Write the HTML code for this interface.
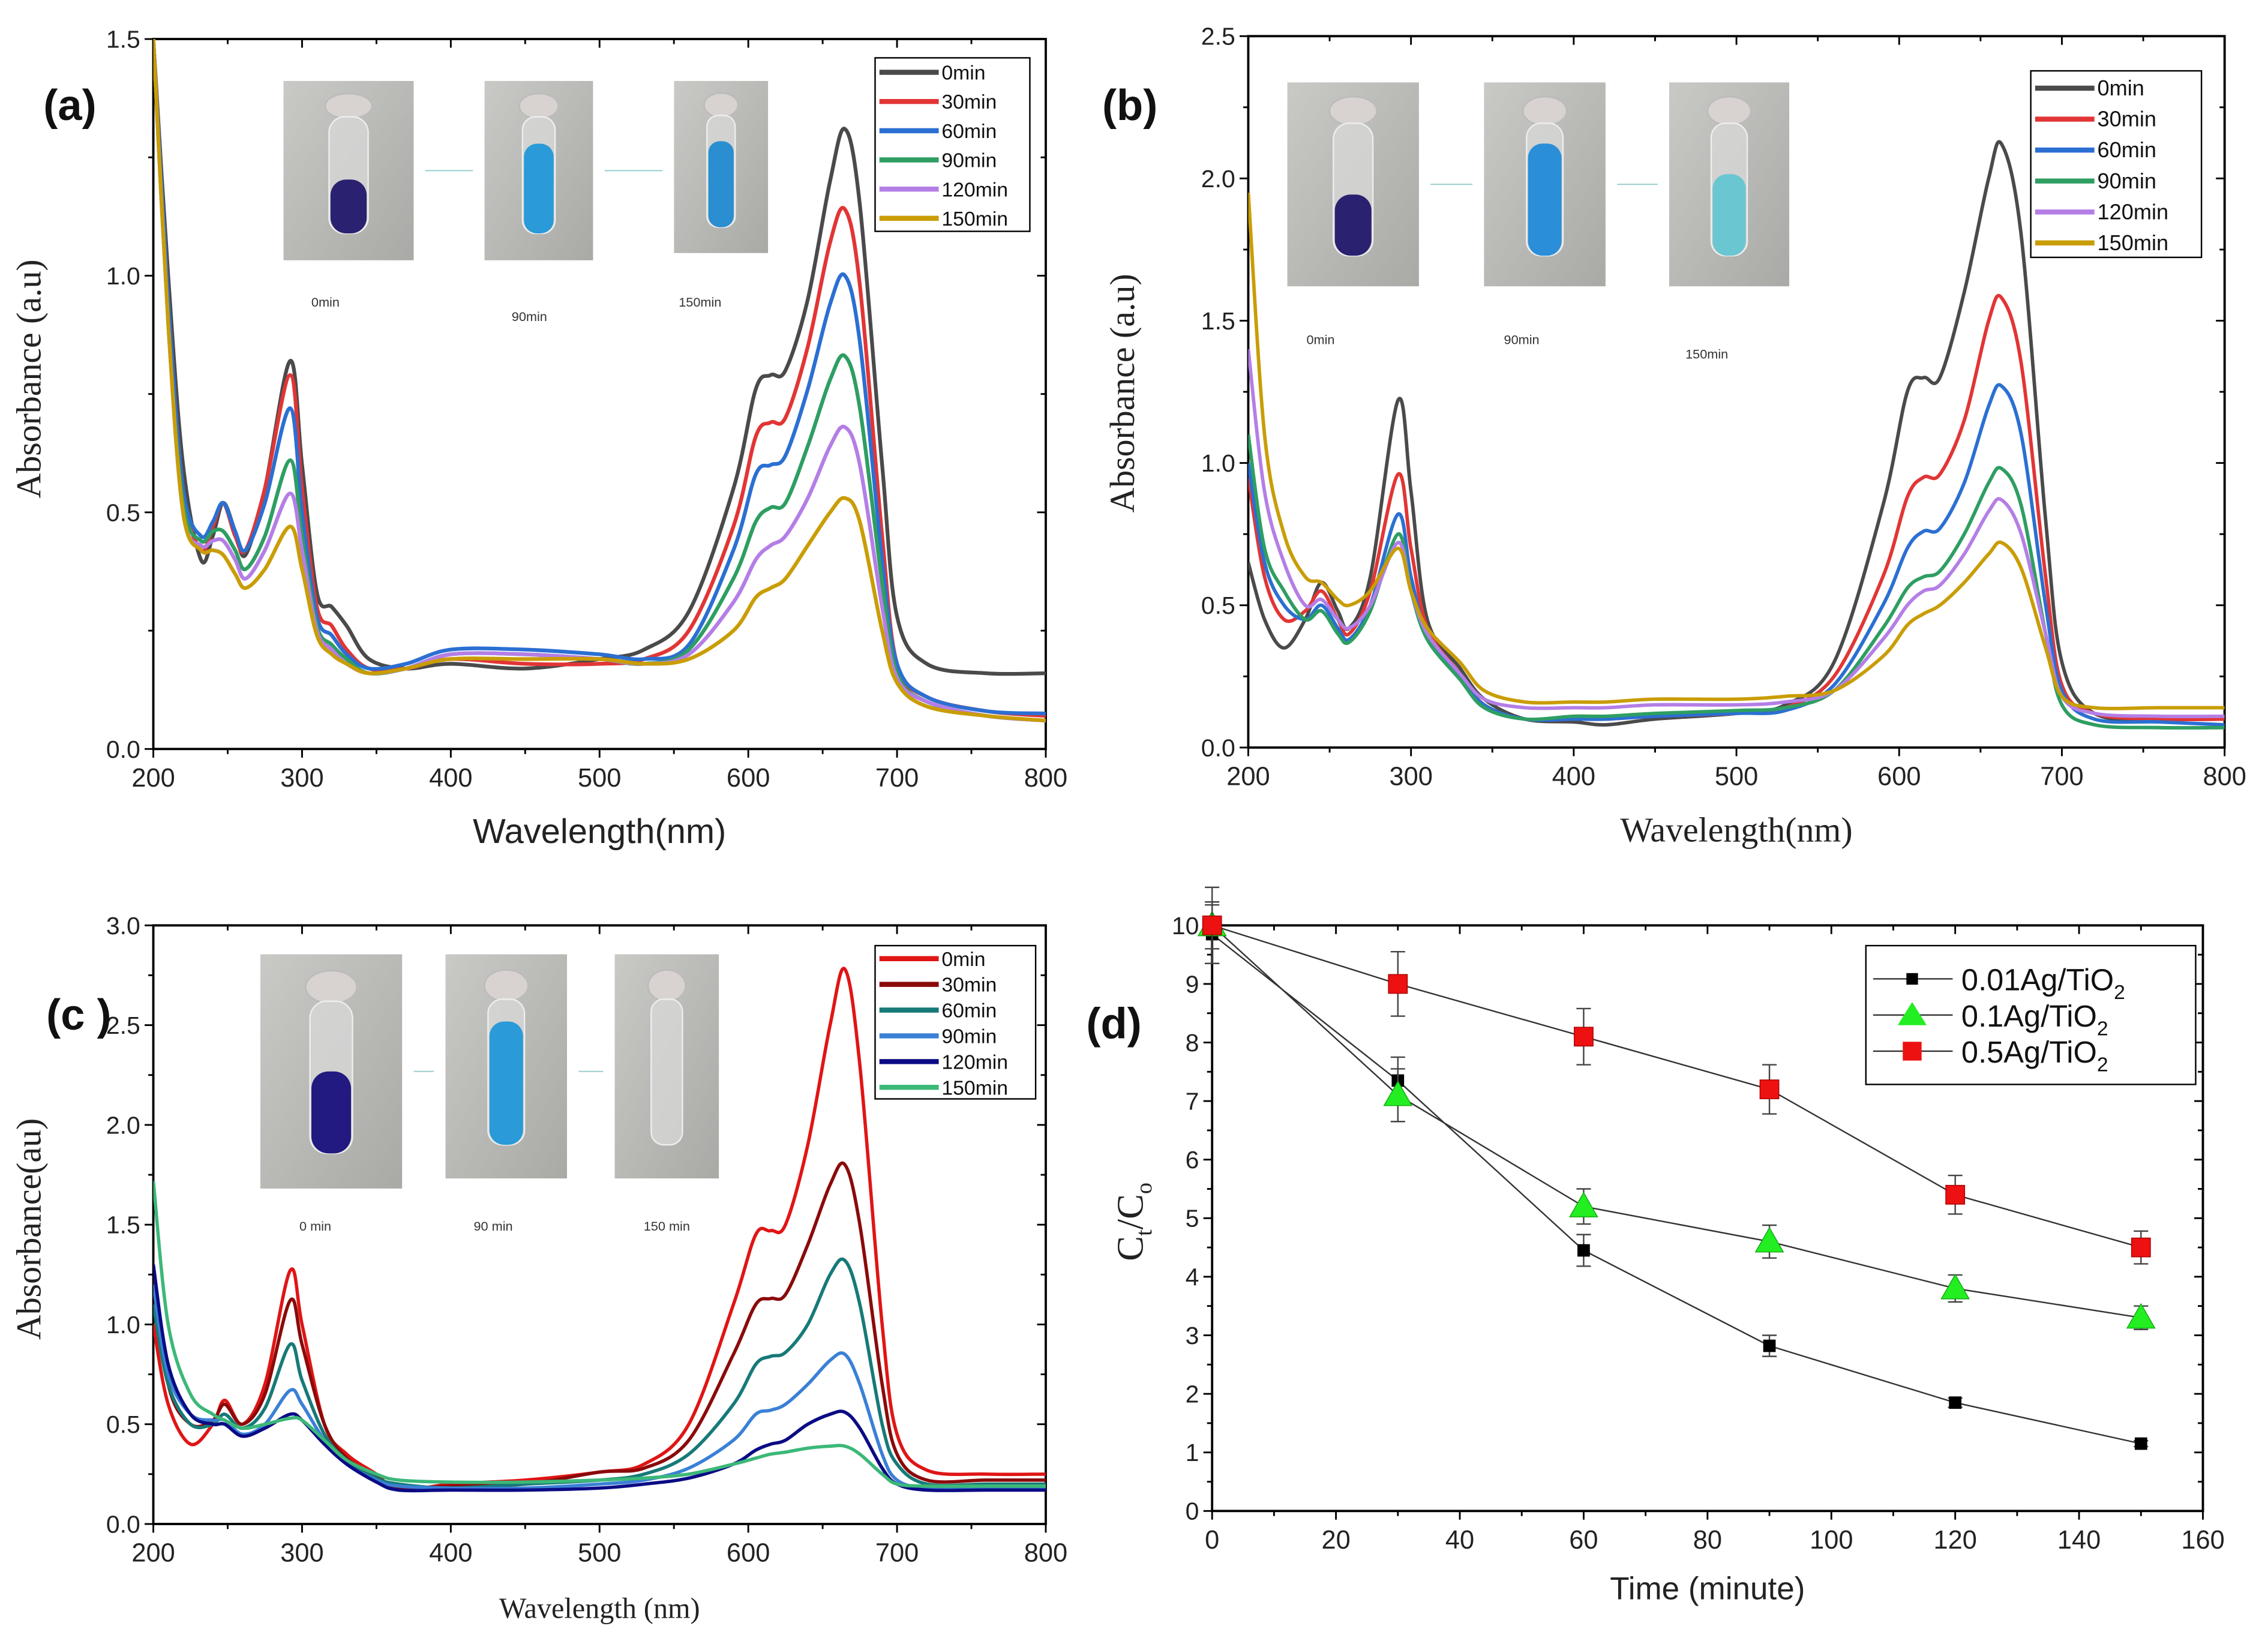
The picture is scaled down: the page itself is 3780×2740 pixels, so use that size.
<!DOCTYPE html>
<html><head><meta charset="utf-8"><style>
html,body{margin:0;padding:0;background:#fff}
svg{display:block}
</style></head><body>
<svg id="fig" width="3780" height="2740" viewBox="0 0 1568 1137" preserveAspectRatio="none" xmlns="http://www.w3.org/2000/svg" font-family="Liberation Sans, sans-serif">
<defs>
<linearGradient id="photoBg" x1="0" y1="0" x2="1" y2="1"><stop offset="0" stop-color="#c9c9c6"/><stop offset="1" stop-color="#a9a9a6"/></linearGradient>
</defs>
<g id="root"></g>
</svg>
<script>
// ===== Panel (a) data =====
const wlA = [200,210,220,232,240,247,255,262,275,292,300,310,320,330,345,370,400,450,500,530,560,590,605,615,625,640,655,665,675,690,700,720,760,800];
const a0 = [1.5,1.0,0.6,0.40,0.45,0.52,0.46,0.41,0.55,0.82,0.6,0.33,0.30,0.26,0.19,0.17,0.18,0.17,0.19,0.21,0.29,0.55,0.76,0.79,0.80,0.95,1.2,1.31,1.15,0.6,0.28,0.18,0.16,0.16];
const a30 = [1.5,0.95,0.55,0.42,0.47,0.52,0.45,0.42,0.55,0.79,0.55,0.30,0.26,0.21,0.17,0.17,0.19,0.18,0.18,0.19,0.25,0.47,0.66,0.69,0.70,0.85,1.07,1.14,0.98,0.45,0.18,0.11,0.08,0.07];
const a60 = [1.5,0.95,0.55,0.45,0.48,0.52,0.46,0.42,0.52,0.72,0.5,0.28,0.24,0.20,0.17,0.18,0.21,0.21,0.20,0.19,0.22,0.42,0.58,0.60,0.62,0.76,0.94,1.0,0.86,0.40,0.18,0.11,0.08,0.075];
const a90 = [1.5,0.9,0.52,0.44,0.46,0.46,0.42,0.38,0.45,0.61,0.45,0.26,0.22,0.19,0.16,0.17,0.2,0.2,0.19,0.18,0.21,0.36,0.48,0.51,0.52,0.64,0.78,0.83,0.72,0.35,0.16,0.10,0.07,0.06];
const a120 = [1.5,0.9,0.5,0.43,0.44,0.44,0.40,0.36,0.42,0.54,0.42,0.25,0.21,0.18,0.16,0.17,0.2,0.2,0.19,0.18,0.2,0.31,0.40,0.43,0.45,0.53,0.64,0.68,0.60,0.3,0.15,0.10,0.07,0.06];
const a150 = [1.5,0.9,0.5,0.42,0.42,0.41,0.37,0.34,0.38,0.47,0.38,0.24,0.20,0.18,0.16,0.17,0.19,0.19,0.19,0.18,0.19,0.25,0.32,0.34,0.36,0.43,0.50,0.53,0.48,0.25,0.14,0.09,0.07,0.06];
// ===== Panel (b) data =====
const wlB = [200,210,222,235,245,255,262,275,292,300,310,330,345,370,400,420,450,500,530,560,590,605,615,625,640,655,663,675,690,700,720,760,800];
const b0 = [0.65,0.45,0.35,0.45,0.58,0.48,0.42,0.6,1.22,0.9,0.45,0.28,0.17,0.10,0.09,0.08,0.10,0.12,0.15,0.3,0.85,1.25,1.30,1.30,1.6,2.0,2.12,1.8,0.8,0.3,0.12,0.10,0.10];
const b30 = [0.95,0.6,0.45,0.48,0.55,0.45,0.40,0.55,0.96,0.7,0.42,0.26,0.15,0.10,0.10,0.10,0.11,0.12,0.14,0.25,0.6,0.88,0.95,0.96,1.15,1.5,1.58,1.35,0.6,0.22,0.12,0.10,0.10];
const b60 = [1.0,0.65,0.5,0.45,0.5,0.42,0.38,0.5,0.82,0.6,0.40,0.25,0.15,0.10,0.10,0.10,0.11,0.12,0.13,0.22,0.5,0.7,0.76,0.77,0.93,1.2,1.27,1.1,0.5,0.2,0.10,0.09,0.08];
const b90 = [1.1,0.7,0.55,0.45,0.48,0.40,0.37,0.48,0.75,0.55,0.38,0.24,0.14,0.10,0.11,0.11,0.12,0.13,0.14,0.2,0.42,0.56,0.6,0.62,0.75,0.93,0.98,0.85,0.4,0.15,0.08,0.07,0.07];
const b120 = [1.4,0.9,0.65,0.5,0.52,0.45,0.42,0.50,0.72,0.55,0.40,0.26,0.17,0.14,0.14,0.14,0.15,0.15,0.16,0.2,0.38,0.5,0.55,0.57,0.68,0.83,0.87,0.75,0.4,0.18,0.12,0.11,0.11];
const b150 = [1.95,1.1,0.75,0.6,0.58,0.52,0.50,0.55,0.70,0.55,0.42,0.30,0.20,0.16,0.16,0.16,0.17,0.17,0.18,0.2,0.32,0.43,0.47,0.5,0.58,0.68,0.72,0.63,0.35,0.18,0.14,0.14,0.14];
// ===== Panel (c) data =====
const wlC = [200,210,225,240,248,260,275,292,300,315,330,350,365,400,450,500,530,560,590,605,615,625,640,655,665,675,690,700,720,760,800];
const c0 = [1.0,0.6,0.4,0.5,0.62,0.5,0.7,1.27,1.0,0.5,0.35,0.25,0.17,0.2,0.22,0.26,0.3,0.5,1.1,1.45,1.47,1.5,1.9,2.5,2.78,2.3,1.0,0.45,0.27,0.25,0.25];
const c30 = [1.3,0.7,0.5,0.52,0.6,0.5,0.65,1.12,0.9,0.5,0.33,0.24,0.18,0.19,0.2,0.26,0.28,0.42,0.85,1.1,1.13,1.15,1.4,1.7,1.8,1.5,0.7,0.35,0.22,0.22,0.22];
const c60 = [1.1,0.7,0.5,0.5,0.55,0.48,0.58,0.9,0.72,0.45,0.32,0.23,0.2,0.18,0.2,0.22,0.25,0.35,0.6,0.8,0.84,0.86,1.0,1.25,1.32,1.1,0.5,0.3,0.2,0.2,0.2];
const c90 = [1.2,0.75,0.55,0.52,0.52,0.45,0.5,0.67,0.6,0.42,0.30,0.22,0.19,0.18,0.18,0.2,0.22,0.28,0.42,0.55,0.57,0.6,0.7,0.82,0.85,0.7,0.35,0.22,0.18,0.18,0.18];
const c120 = [1.3,0.8,0.55,0.5,0.5,0.44,0.48,0.55,0.52,0.40,0.30,0.21,0.17,0.17,0.17,0.18,0.2,0.23,0.3,0.37,0.4,0.42,0.5,0.55,0.56,0.48,0.28,0.2,0.17,0.17,0.17];
const c150 = [1.72,1.0,0.65,0.55,0.52,0.48,0.5,0.53,0.52,0.42,0.32,0.25,0.22,0.21,0.21,0.22,0.23,0.25,0.3,0.33,0.35,0.36,0.38,0.39,0.39,0.35,0.25,0.2,0.19,0.19,0.19];
const timeLabels = ["0min","30min","60min","90min","120min","150min"];
// ===== Panel (d) data =====
const timeD = [0,30,60,90,120,150];
const d001 = [9.85,7.35,4.45,2.82,1.85,1.15];
const d001err = [0.5,0.4,0.27,0.18,0.08,0.05];
const d01 = [10,7.1,5.2,4.6,3.8,3.3];
const d01err = [0.4,0.45,0.3,0.28,0.23,0.2];
const d05 = [10,9,8.1,7.2,5.4,4.5];
const d05err = [0.65,0.55,0.48,0.42,0.33,0.28];
const xTicksW = [200,300,400,500,600,700,800];
const xTicksT = [0,20,40,60,80,100,120,140,160];

const NS="http://www.w3.org/2000/svg";
const root=document.getElementById('root');
function el(tag,attrs,parent,text){const e=document.createElementNS(NS,tag);for(const k in attrs)e.setAttribute(k,attrs[k]);if(text!==undefined)e.textContent=text;(parent||root).appendChild(e);return e;}
function smooth(pts){let d='M'+pts[0][0].toFixed(2)+','+pts[0][1].toFixed(2);for(let i=0;i<pts.length-1;i++){const p0=pts[Math.max(0,i-1)],p1=pts[i],p2=pts[i+1],p3=pts[Math.min(pts.length-1,i+2)];const c1=[p1[0]+(p2[0]-p0[0])/6,p1[1]+(p2[1]-p0[1])/6],c2=[p2[0]-(p3[0]-p1[0])/6,p2[1]-(p3[1]-p1[1])/6];d+='C'+c1[0].toFixed(2)+','+c1[1].toFixed(2)+' '+c2[0].toFixed(2)+','+c2[1].toFixed(2)+' '+p2[0].toFixed(2)+','+p2[1].toFixed(2);}return d;}

function axes(P,g,xt,yt,xminor,yminor,fmt){
  const sx=v=>P.x0+(v-P.xmin)/(P.xmax-P.xmin)*(P.x1-P.x0);
  const sy=v=>P.y1-(v-P.ymin)/(P.ymax-P.ymin)*(P.y1-P.y0);
  const fr=el('rect',{x:P.x0,y:P.y0,width:P.x1-P.x0,height:P.y1-P.y0,fill:'none',stroke:'#000','stroke-width':1.6},g);
  
  for(let v=P.xmin;v<=P.xmax+1e-9;v+=xminor){const x=sx(v);const major=xt.some(t=>Math.abs(t-v)<1e-9);const L=major?6:3.5;
    el('line',{x1:x,y1:P.y1,x2:x,y2:P.y1+L,stroke:'#000','stroke-width':1.2},g);el('line',{x1:x,y1:P.y0,x2:x,y2:P.y0+L,stroke:'#000','stroke-width':1.2},g);}
  for(let v=P.ymin;v<=P.ymax+1e-9;v+=yminor){const y=sy(v);const major=yt.some(t=>Math.abs(t-v)<1e-9);const L=major?6:3.5;
    el('line',{x1:P.x0,y1:y,x2:P.x0-L,y2:y,stroke:'#000','stroke-width':1.2},g);el('line',{x1:P.x1,y1:y,x2:P.x1-L,y2:y,stroke:'#000','stroke-width':1.2},g);}
  xt.forEach(v=>{const t=el('text',{x:sx(v),y:P.y1+26,'font-size':18,'text-anchor':'middle',fill:'#222'},g,String(v));});
  yt.forEach(v=>{const t=el('text',{x:P.x0-9,y:sy(v)+6,'font-size':17,'text-anchor':'end',fill:'#222'},g,fmt(v));});
  return {sx,sy};
}

function photo(g,x,y,w,h,liquid,name,lh){
  const gg=el('g',{},g);
  el('rect',{x:x,y:y,width:w,height:h,fill:'url(#photoBg)'},gg);
  const cx=x+w/2,vw=w*0.3;
  el('ellipse',{cx:cx,cy:y+h*0.14,rx:vw*0.6,ry:h*0.07,fill:'#d8d2d0',stroke:'#bbb'},gg);
  el('rect',{x:cx-vw/2,y:y+h*0.2,width:vw,height:h*0.65,rx:vw*0.4,fill:'#dcdcdc','fill-opacity':0.7,stroke:'#eee'},gg);
  if(liquid) el('rect',{x:cx-vw/2+1,y:y+h*(0.85-lh),width:vw-2,height:h*lh,rx:vw*0.4,fill:liquid},gg);
}

function spectrum(P,key,wl,series,colors,lw,legend,yt,yminor,title,titleFont,ylab,photos,labels,letter){
  const g=el('g',{});
  // photos
  photos.forEach((p,i)=>photo(g,p[0],p[1],p[2],p[3],p[4],'vial-photo-'+i,p[5]));
  labels.forEach(l=>{const t=el('text',{x:l[0],y:l[1],'font-size':9,'text-anchor':'middle',fill:'#333'},g,l[2]);});
  el('line',{x1:photos[0][0]+photos[0][2]+8,y1:photos[0][1]+photos[0][3]*0.5,x2:photos[1][0]-8,y2:photos[0][1]+photos[0][3]*0.5,stroke:'#9cc',"stroke-width":0.8},g);
  el('line',{x1:photos[1][0]+photos[1][2]+8,y1:photos[0][1]+photos[0][3]*0.5,x2:photos[2][0]-8,y2:photos[0][1]+photos[0][3]*0.5,stroke:'#9cc',"stroke-width":0.8},g);
  const {sx,sy}=axes(P,g,xTicksW,yt,50,yminor,v=>v.toFixed(1));
  const cp=el('clipPath',{id:'clip-'+key},g);el('rect',{x:P.x0,y:P.y0,width:P.x1-P.x0,height:P.y1-P.y0},cp);
  series.forEach((s,i)=>{const pts=wl.map((w,j)=>[sx(w),sy(s[j])]);
    const p=el('path',{d:smooth(pts),fill:'none',stroke:colors[i],'stroke-width':lw,'clip-path':'url(#clip-'+key+')','stroke-linejoin':'round'},g);
    });
  // legend
  const L=legend;const lg=el('g',{},g);
  el('rect',{x:L.x,y:L.y,width:L.w,height:L.h,fill:'#fff',stroke:'#000','stroke-width':1},lg);
  timeLabels.forEach((t,i)=>{const y=L.y+L.first+i*L.step;
    const ln=el('line',{x1:L.x+3,y1:y,x2:L.x+L.lineLen,y2:y,stroke:colors[i],'stroke-width':3.5},lg);
    const tx=el('text',{x:L.x+L.lineLen+2,y:y+5,'font-size':L.fs,fill:'#111'},lg,t);});
  const xt=el('text',{x:(P.x0+P.x1)/2,y:P.y1+65,'font-size':titleFont.size,'text-anchor':'middle','font-family':titleFont.family,fill:'#222'},g,title);
  
  const yl=el('text',{x:0,y:0,'font-size':24,'text-anchor':'middle','font-family':'Liberation Serif, serif',fill:'#222',transform:'translate('+ylab[0]+','+ylab[1]+') rotate(-90)'},g,ylab[2]);
  
  const lt=el('text',{x:letter[0],y:letter[1],'font-size':30,'font-weight':'bold',fill:'#111'},g,letter[2]);
  
}

const colsAB=['#4a4a4a','#e23535','#2b6fd2','#2e9e62','#b47ee6','#c99d06'];
const colsC=['#e01515','#8b0a0a','#167a78','#3a80d6','#0b0b85','#3cb878'];

spectrum({x0:106,x1:723,y0:27,y1:518,xmin:200,xmax:800,ymin:0,ymax:1.5},'panel-a',wlA,[a0,a30,a60,a90,a120,a150],colsAB,2.6,
 {x:605,y:40,w:107,h:120,first:10,step:20.2,lineLen:44,fs:14},[0,0.5,1.0,1.5],0.25,'Wavelength(nm)',{size:24,family:'Liberation Sans, sans-serif'},
 [28,262,'Absorbance (a.u)'],
 [[196,56,90,124,'#2a2170',0.3],[335,56,75,124,'#2a9ad8',0.5],[466,56,65,119,'#2a8ed0',0.5]],
 [[225,212,'0min'],[366,222,'90min'],[484,212,'150min']],[30,83,'(a)']);

spectrum({x0:863,x1:1538,y0:25,y1:517,xmin:200,xmax:800,ymin:0,ymax:2.5},'panel-b',wlB,[b0,b30,b60,b90,b120,b150],colsAB,2.4,
 {x:1404,y:49,w:118,h:129,first:12,step:21.4,lineLen:44,fs:15},[0,0.5,1.0,1.5,2.0,2.5],0.25,'Wavelength(nm)',{size:24,family:'Liberation Serif, serif'},
 [784,272,'Absorbance (a.u)'],
 [[890,57,91,141,'#2a2170',0.3],[1026,57,84,141,'#2a8ed8',0.55],[1154,57,83,141,'#6ac6d0',0.4]],
 [[913,238,'0min'],[1052,238,'90min'],[1180,248,'150min']],[762,83,'(b)']);

spectrum({x0:106,x1:723,y0:640,y1:1054,xmin:200,xmax:800,ymin:0,ymax:3.0},'panel-c',wlC,[c0,c30,c60,c90,c120,c150],colsC,2.3,
 {x:605,y:654,w:111,h:106,first:9,step:17.8,lineLen:44,fs:14},[0,0.5,1.0,1.5,2.0,2.5,3.0],0.25,'Wavelength (nm)',{size:20,family:'Liberation Serif, serif'},
 [28,850,'Absorbance(au)'],
 [[180,660,98,162,'#221a80',0.35],[308,660,84,155,'#2a9ad8',0.55],[425,660,72,155,null,0]],
 [[218,851,'0 min'],[341,851,'90 min'],[461,851,'150 min']],[32,712,'(c )']);

// ===== Panel (d) =====
(function(){
  const P={x0:838,x1:1523,y0:640,y1:1045,xmin:0,xmax:160,ymin:0,ymax:10};
  const g=el('g',{});
  const {sx,sy}=axes(P,g,xTicksT,[0,1,2,3,4,5,6,7,8,9,10],10,0.5,v=>String(v));
  function series(vals,errs,marker,color,size,name){
    const sg=el('g',{},g);
    const pts=timeD.map((t,i)=>[sx(t),sy(vals[i])]);
    el('polyline',{points:pts.map(p=>p.join(',')).join(' '),fill:'none',stroke:'#333','stroke-width':1},sg);
    timeD.forEach((t,i)=>{const x=sx(t),yt=sy(vals[i]+errs[i]),yb=sy(vals[i]-errs[i]);
      el('line',{x1:x,y1:yt,x2:x,y2:yb,stroke:'#444','stroke-width':1},sg);
      el('line',{x1:x-5,y1:yt,x2:x+5,y2:yt,stroke:'#444','stroke-width':1},sg);
      el('line',{x1:x-5,y1:yb,x2:x+5,y2:yb,stroke:'#444','stroke-width':1},sg);
      const y=sy(vals[i]);let m;
      if(marker==='sq') m=el('rect',{x:x-size/2,y:y-size/2,width:size,height:size,fill:color,stroke:color==='#000'?'#000':'#a00','stroke-width':0.6},sg);
      else m=el('polygon',{points:(x)+','+(y-size*0.6)+' '+(x-size*0.6)+','+(y+size*0.45)+' '+(x+size*0.6)+','+(y+size*0.45),fill:color,stroke:'#1a1','stroke-width':0.6},sg);
      });
  }
  series(d001,d001err,'sq','#000',8,'series-0.01Ag');
  series(d01,d01err,'tri','#22ee22',16,'series-0.1Ag');
  series(d05,d05err,'sq','#ee1111',13,'series-0.5Ag');
  const lg=el('g',{},g);
  el('rect',{x:1290,y:654,width:228,height:96,fill:'#fff',stroke:'#000','stroke-width':1},lg);
  const ents=[['0.01Ag/TiO','sq','#000',8],['0.1Ag/TiO','tri','#22ee22',16],['0.5Ag/TiO','sq','#ee1111',13]];
  ents.forEach((e,i)=>{const y=677+i*25;
    el('line',{x1:1295,y1:y,x2:1350,y2:y,stroke:'#333','stroke-width':1},lg);
    if(e[1]==='sq') el('rect',{x:1322-e[3]/2,y:y-e[3]/2,width:e[3],height:e[3],fill:e[2]},lg);
    else el('polygon',{points:1322+','+(y-9)+' '+(1312)+','+(y+7)+' '+(1332)+','+(y+7),fill:e[2]},lg);
    const t=el('text',{x:1356,y:y+8,'font-size':21,fill:'#111'},lg,e[0]);
    el('tspan',{'font-size':14,dy:6},t,'2');
    });
  const xt=el('text',{x:(P.x0+P.x1)/2,y:1106,'font-size':22,'text-anchor':'middle',fill:'#222'},g,'Time (minute)');
  
  const yl=el('text',{x:0,y:0,'font-size':26,'text-anchor':'middle','font-family':'Liberation Serif, serif',fill:'#222',transform:'translate(790,845) rotate(-90)'},g);
  
  el('tspan',{},yl,'C');el('tspan',{'font-size':16,dy:6},yl,'t');el('tspan',{dy:-6},yl,'/C');el('tspan',{'font-size':16,dy:6},yl,'o');
  const lt=el('text',{x:751,y:718,'font-size':30,'font-weight':'bold',fill:'#111'},g,'(d)');
  
})();
</script>
</body></html>
